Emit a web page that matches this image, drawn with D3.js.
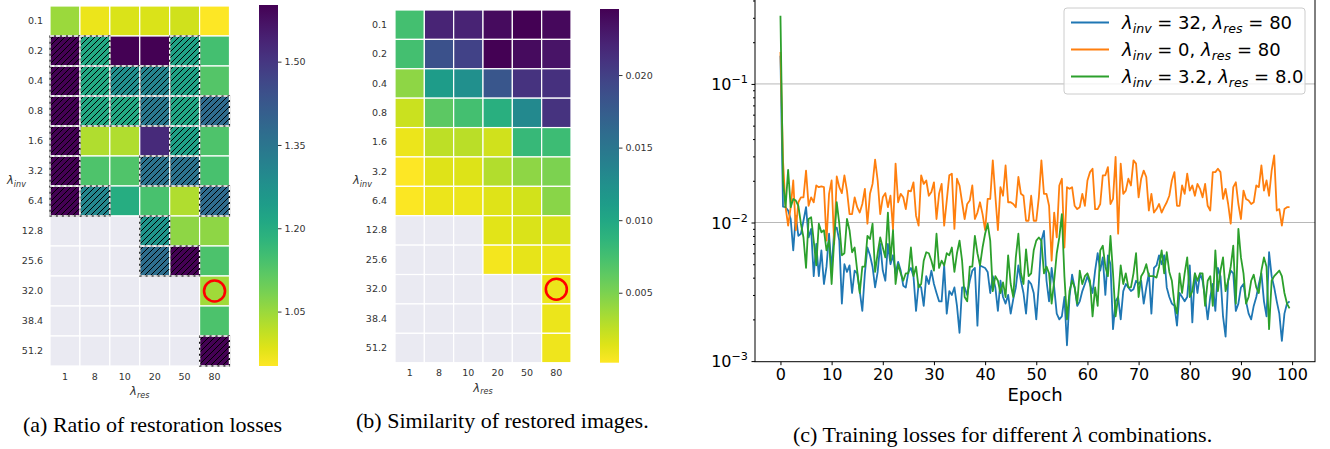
<!DOCTYPE html>
<html>
<head>
<meta charset="utf-8">
<script src="https://cdn.jsdelivr.net/npm/d3@7"></script>
<style>
  body { margin: 0; background: #fff; }
  svg { display: block; }
  text { font-family: "DejaVu Sans", sans-serif; }
</style>
</head>
<body>
<div id="chart"></div>
<script>
// ---- data ----
var invLabels = ["0.1", "0.2", "0.4", "0.8", "1.6", "3.2", "6.4", "12.8", "25.6", "32.0", "38.4", "51.2"]
var resLabels = ["1", "8", "10", "20", "50", "80"]

// (a) ratio of restoration losses, null = not trained
var ratio = [
  [1.05, 0.97, 0.99, 0.99, 1.00, 0.952],
  [1.602, 1.21, 1.602, 1.602, 1.225, 1.147],
  [1.602, 1.21, 1.28, 1.31, 1.225, 1.127],
  [1.602, 1.21, 1.21, 1.342, 1.215, 1.375],
  [1.602, 1.03, 1.03, 1.524, 1.23, 1.134],
  [1.602, 1.134, 1.13, 1.355, 1.355, 1.14],
  [1.602, 1.30, 1.20, 1.14, 1.03, 1.375],
  [null, null, null, 1.264, 1.063, 1.063],
  [null, null, null, 1.37, 1.602, 1.135],
  [null, null, null, null, null, 1.045],
  [null, null, null, null, null, 1.135],
  [null, null, null, null, null, 1.602]
]
var ratioHatch = [
  [0, 0, 0, 0, 0, 0],
  [1, 1, 0, 0, 1, 0],
  [1, 1, 1, 1, 1, 0],
  [1, 1, 1, 1, 1, 1],
  [1, 0, 0, 0, 1, 0],
  [1, 0, 0, 1, 1, 0],
  [1, 1, 0, 0, 0, 1],
  [0, 0, 0, 1, 0, 0],
  [0, 0, 0, 1, 1, 0],
  [0, 0, 0, 0, 0, 0],
  [0, 0, 0, 0, 0, 0],
  [0, 0, 0, 0, 0, 1]
]
var ratioTicks = [1.05, 1.20, 1.35, 1.50]

// (b) similarity of restored images
var similarity = [
  [0.0075, 0.0221, 0.0222, 0.0238, 0.0245, 0.0240],
  [0.0075, 0.0185, 0.0197, 0.0245, 0.0238, 0.0233],
  [0.0043, 0.0112, 0.0124, 0.0180, 0.0210, 0.0212],
  [0.0021, 0.0063, 0.0075, 0.0092, 0.0131, 0.0210],
  [0.0009, 0.0026, 0.0027, 0.0019, 0.0082, 0.0078],
  [0.0002, 0.0014, 0.0015, 0.0030, 0.0043, 0.0050],
  [0.0003, 0.0009, 0.0009, 0.0014, 0.0018, 0.0045],
  [null, null, null, 0.0013, 0.0016, 0.0017],
  [null, null, null, 0.0006, 0.0011, 0.0010],
  [null, null, null, null, null, 0.0009],
  [null, null, null, null, null, 0.0009],
  [null, null, null, null, null, 0.0008]
]
var simTicks = [0.005, 0.010, 0.015, 0.020]

// (c) training losses, one value every half epoch
var lossInv32 = [
  0.16, 0.0130, 0.0129, 0.0122, 0.0106, 0.0063, 0.0112, 0.0080, 0.0083, 0.0103, 0.0129, 0.0078, 0.0090, 0.0041, 0.0070, 0.0041, 0.0063, 0.0036, 0.0048, 0.0083,
  0.0045, 0.0088, 0.0092, 0.0074, 0.0026, 0.0050, 0.0044, 0.0049, 0.0031, 0.0045, 0.0043, 0.0032, 0.0023, 0.0043, 0.0066, 0.0058, 0.0048, 0.0034, 0.0044, 0.0070,
  0.0045, 0.0038, 0.0070, 0.0050, 0.0058, 0.0043, 0.0052, 0.0045, 0.0035,
  0.0034, 0.0044, 0.0047, 0.0041, 0.0023, 0.0036, 0.0034, 0.0025, 0.0041, 0.0036, 0.0045, 0.0036, 0.0031, 0.0027, 0.0027, 0.0049, 0.0022, 0.0032, 0.0030, 0.0034,
  0.0025, 0.0016, 0.0034, 0.0034, 0.0030, 0.0038, 0.0045, 0.0047, 0.0018, 0.0049, 0.0048, 0.0047, 0.0044, 0.0031, 0.0041, 0.0034, 0.0023, 0.0038, 0.0029, 0.0026,
  0.0030, 0.0022, 0.0028, 0.0034, 0.0049, 0.0038, 0.0031, 0.0022, 0.0038,
  0.0036, 0.0031, 0.0020, 0.0036, 0.0074, 0.0087, 0.0038, 0.0027, 0.0047, 0.0034, 0.0022, 0.0020, 0.0021, 0.0029, 0.0013, 0.0029, 0.0042, 0.0034, 0.0025, 0.0027,
  0.0032, 0.0036, 0.0041, 0.0036, 0.0031, 0.0045, 0.0060, 0.0045, 0.0056, 0.0030, 0.0058, 0.0050, 0.0017, 0.0027, 0.0029, 0.0020, 0.0032, 0.0036, 0.0034, 0.0032,
  0.0033, 0.0038, 0.0036, 0.0038, 0.0026, 0.0034, 0.0043, 0.0022, 0.0047, 0.0049, 0.0058,
  0.0050, 0.0058, 0.0034, 0.0029, 0.0026, 0.0025, 0.0018, 0.0031, 0.0029, 0.0027, 0.0029, 0.0049, 0.0019, 0.0043, 0.0031, 0.0043, 0.0038, 0.0029, 0.0020, 0.0029,
  0.0036, 0.0023, 0.0047, 0.0041, 0.0021, 0.0015, 0.0038, 0.0045, 0.0043, 0.0023, 0.0026, 0.0034, 0.0036, 0.0027, 0.0022, 0.0020, 0.0025, 0.0029, 0.0036, 0.0043,
  0.0027, 0.0021, 0.0061, 0.0041, 0.0034, 0.0027, 0.0022, 0.0014, 0.0022, 0.0026, 0.0027
]
var lossInv0 = [
  0.17, 0.028, 0.0129, 0.0095, 0.0129, 0.0201, 0.0088, 0.0140, 0.0152, 0.0152, 0.0237, 0.0132, 0.0152, 0.0140, 0.0185, 0.0180, 0.0182, 0.0180, 0.0074, 0.0161,
  0.0201, 0.0070, 0.0215, 0.0180, 0.0163, 0.0219, 0.0170, 0.0115, 0.0115, 0.0152, 0.0129, 0.0118, 0.0136, 0.0175, 0.0098, 0.0161, 0.0190, 0.0284, 0.0201, 0.0115,
  0.0152, 0.0163, 0.0129, 0.0156, 0.0089, 0.0266, 0.0140, 0.0161, 0.0152,
  0.0125, 0.0170, 0.0168, 0.0195, 0.0112, 0.0095, 0.0219, 0.0190, 0.0201, 0.0156, 0.0166, 0.0195, 0.0106, 0.0161, 0.0190, 0.0095, 0.0144, 0.0219, 0.0225, 0.0090,
  0.0207, 0.0185, 0.0140, 0.0106, 0.0136, 0.0144, 0.0185, 0.0106, 0.0118, 0.0140, 0.0115, 0.0088, 0.0148, 0.0148, 0.0281, 0.0156, 0.0088, 0.0180, 0.0156, 0.0258,
  0.0140, 0.0140, 0.0136, 0.0129, 0.0213, 0.0161, 0.0156, 0.0103, 0.0103,
  0.0156, 0.0103, 0.0103, 0.0152, 0.0281, 0.0161, 0.0161, 0.0132, 0.0053, 0.0118, 0.0078, 0.0185, 0.0207, 0.0066, 0.0180, 0.0175, 0.0180, 0.0132, 0.0125, 0.0129,
  0.0161, 0.0132, 0.0201, 0.0231, 0.0244, 0.0125, 0.0125, 0.0136, 0.0219, 0.0219, 0.0251, 0.0136, 0.0148, 0.0297, 0.0083, 0.0266, 0.0161, 0.0170, 0.0207, 0.0185,
  0.0281, 0.0266, 0.0152, 0.0207, 0.0237, 0.0213, 0.0122, 0.0161, 0.0118, 0.0125, 0.0136,
  0.0118, 0.0129, 0.0140, 0.0156, 0.0201, 0.0231, 0.0132, 0.0132, 0.0185, 0.0161, 0.0225, 0.0170, 0.0185, 0.0156, 0.0190, 0.0175, 0.0152, 0.0190, 0.0132, 0.0122,
  0.0231, 0.0231, 0.0244, 0.0231, 0.0148, 0.0175, 0.0136, 0.0098, 0.0180, 0.0195, 0.0136, 0.0106, 0.0170, 0.0148, 0.0144, 0.0136, 0.0140, 0.0185, 0.0180, 0.0258,
  0.0170, 0.0201, 0.0156, 0.0237, 0.0305, 0.0122, 0.0125, 0.0095, 0.0125, 0.0129, 0.0129
]
var lossInv3 = [
  0.31, 0.020, 0.0129, 0.024, 0.0129, 0.0148, 0.0144, 0.0132, 0.0098, 0.0078, 0.0047, 0.0106, 0.0109, 0.0074, 0.0049, 0.0098, 0.0085, 0.0088, 0.0063, 0.0074,
  0.0036, 0.0074, 0.0140, 0.0098, 0.0058, 0.0060, 0.0106, 0.0088, 0.0061, 0.0066, 0.0045, 0.0031, 0.0048, 0.0048, 0.0080, 0.0076, 0.0098, 0.0044, 0.0060, 0.0078,
  0.0066, 0.0056, 0.0118, 0.0053, 0.0088, 0.0036, 0.0050, 0.0043, 0.0038,
  0.0043, 0.0043, 0.0066, 0.0041, 0.0048, 0.0034, 0.0036, 0.0053, 0.0061, 0.0060, 0.0053, 0.0045, 0.0083, 0.0047, 0.0053, 0.0049, 0.0060, 0.0058, 0.0066, 0.0044,
  0.0060, 0.0074, 0.0053, 0.0029, 0.0027, 0.0048, 0.0048, 0.0080, 0.0060, 0.0049, 0.0066, 0.0083, 0.0098, 0.0074, 0.0032, 0.0041, 0.0038, 0.0031, 0.0037, 0.0029,
  0.0058, 0.0036, 0.0029, 0.0056, 0.0083, 0.0043, 0.0036, 0.0064, 0.0041,
  0.0043, 0.0063, 0.0074, 0.0078, 0.0074, 0.0043, 0.0048, 0.0043, 0.0026, 0.0038, 0.0060, 0.0078, 0.0115, 0.0041, 0.0020, 0.0032, 0.0038, 0.0034, 0.0026, 0.0045,
  0.0036, 0.0041, 0.0043, 0.0038, 0.0021, 0.0034, 0.0025, 0.0063, 0.0068, 0.0048, 0.0041, 0.0080, 0.0043, 0.0021, 0.0029, 0.0049, 0.0036, 0.0043, 0.0034, 0.0034,
  0.0043, 0.0060, 0.0029, 0.0041, 0.0044, 0.0050, 0.0041, 0.0041, 0.0041, 0.0040, 0.0048,
  0.0063, 0.0043, 0.0061, 0.0044, 0.0038, 0.0026, 0.0022, 0.0043, 0.0031, 0.0043, 0.0056, 0.0029, 0.0032, 0.0043, 0.0038, 0.0043, 0.0043, 0.0025, 0.0038, 0.0041,
  0.0025, 0.0063, 0.0032, 0.0045, 0.0056, 0.0032, 0.0038, 0.0048, 0.0068, 0.0026, 0.0090, 0.0056, 0.0043, 0.0026, 0.0029, 0.0038, 0.0042, 0.0034, 0.0031, 0.0045,
  0.0056, 0.0048, 0.0017, 0.0038, 0.0041, 0.0043, 0.0045, 0.0041, 0.0031, 0.0026, 0.0024
]
var seriesNames = [["32", "80"], ["0", "80"], ["3.2", "8.0"]]
var seriesColors = ["#1f77b4", "#ff7f0e", "#2ca02c"]
var epochTicks = d3.range(0, 101, 10)

// ---- drawing ----
var svg = d3.select("#chart").append("svg").attr("width", 1330).attr("height", 449)
var defs = svg.append("defs")

defs.append("pattern")
    .attr("id", "hatch")
    .attr("patternUnits", "userSpaceOnUse")
    .attr("width", 6).attr("height", 6)
    .append("path")
    .attr("d", "M-1,1 l2,-2 M0,6 l6,-6 M5,7 l2,-2")
    .attr("stroke", "#000").attr("stroke-width", 1)

// italic lambda with subscript, mathtext style
function lambdaSub(text, sub, size) {
    text.append("tspan").attr("font-style", "italic").text("λ")
    text.append("tspan").attr("font-style", "italic").attr("font-size", size * 0.7).attr("dy", size * 0.22).text(sub)
    text.append("tspan").attr("dy", -size * 0.22).text("")
}

function heatmap(cfg) {
    var g = svg.append("g")
    var x = d3.scaleBand().domain(resLabels).range([cfg.x0, cfg.x1])
    var y = d3.scaleBand().domain(invLabels).range([cfg.y0, cfg.y1])
    var color = d3.scaleSequential(d3.interpolateViridis).domain([cfg.vmax, cfg.vmin])

    var cells = []
    cfg.values.forEach((row, i) => row.forEach((v, j) => {
        cells.push({ inv: invLabels[i], res: resLabels[j], v: v, h: cfg.hatch ? cfg.hatch[i][j] : 0 })
    }))

    g.selectAll("rect.cell")
        .data(cells)
        .enter()
        .append("rect")
        .attr("x", d => x(d.res)).attr("y", d => y(d.inv))
        .attr("width", x.bandwidth()).attr("height", y.bandwidth())
        .attr("fill", d => d.v == null ? "#eaeaf2" : color(d.v))
        .attr("stroke", "#fff").attr("stroke-width", 1.2)

    var hatched = cells.filter(d => d.h)
    g.selectAll("rect.hb").data(hatched).enter().append("rect")
        .attr("x", d => x(d.res)).attr("y", d => y(d.inv))
        .attr("width", x.bandwidth()).attr("height", y.bandwidth())
        .attr("fill", "url(#hatch)")
        .attr("stroke", "#111").attr("stroke-width", 1.2)
    g.selectAll("rect.hw").data(hatched).enter().append("rect")
        .attr("x", d => x(d.res)).attr("y", d => y(d.inv))
        .attr("width", x.bandwidth()).attr("height", y.bandwidth())
        .attr("fill", "none")
        .attr("stroke", "#fff").attr("stroke-width", 1.3).attr("stroke-dasharray", "4,2")

    // highlighted setting
    g.append("circle")
        .attr("cx", x("80") + x.bandwidth() / 2).attr("cy", y("32.0") + y.bandwidth() / 2)
        .attr("r", 10.5)
        .attr("fill", "none").attr("stroke", "#f00").attr("stroke-width", 2.6)

    var ay = g.append("g").attr("transform", "translate(" + cfg.x0 + ",0)")
        .call(d3.axisLeft(y).tickSize(0).tickPadding(cfg.ypad))
    var ax = g.append("g").attr("transform", "translate(0," + cfg.y1 + ")")
        .call(d3.axisBottom(x).tickSize(0).tickPadding(7))
    ;[ay, ax].forEach(a => {
        a.select(".domain").remove()
        a.selectAll("text").attr("font-size", 9.5).attr("fill", "#333").attr("font-family", "DejaVu Sans")
    })

    var ly = g.append("text").attr("x", cfg.ylabX).attr("y", 184).attr("font-size", 11.5).attr("fill", "#333")
    lambdaSub(ly, "inv", 11.5)
    var lx = g.append("text").attr("x", (cfg.x0 + cfg.x1) / 2).attr("y", cfg.y1 + 29)
        .attr("font-size", 11.5).attr("fill", "#333").attr("text-anchor", "middle")
    lambdaSub(lx, "res", 11.5)

    // colorbar
    var cb = d3.scaleLinear().domain([cfg.vmin, cfg.vmax]).range([cfg.cbBottom, cfg.cbTop])
    var gid = "grad" + cfg.id
    var grad = defs.append("linearGradient").attr("id", gid)
        .attr("x1", 0).attr("y1", 1).attr("x2", 0).attr("y2", 0)
    d3.range(0, 1.0001, 0.05).forEach(t => {
        grad.append("stop").attr("offset", t).attr("stop-color", d3.interpolateViridis(1 - t))
    })
    g.append("rect")
        .attr("x", cfg.cbX).attr("y", cfg.cbTop)
        .attr("width", cfg.cbW).attr("height", cfg.cbBottom - cfg.cbTop)
        .attr("fill", "url(#" + gid + ")")
    var ac = g.append("g").attr("transform", "translate(" + (cfg.cbX + cfg.cbW) + ",0)")
        .call(d3.axisRight(cb).tickValues(cfg.ticks).tickFormat(d3.format(cfg.fmt)).tickSize(3.5).tickPadding(3))
    ac.select(".domain").remove()
    ac.selectAll("line").attr("stroke", "#333")
    ac.selectAll("text").attr("font-size", 9.5).attr("fill", "#333").attr("font-family", "DejaVu Sans")
}

heatmap({
    id: "a", values: ratio, hatch: ratioHatch, vmin: 0.952, vmax: 1.602,
    x0: 50, x1: 229.5, y0: 6, y1: 366, ypad: 7, ylabX: 7,
    cbX: 259, cbW: 19, cbTop: 5, cbBottom: 366, ticks: ratioTicks, fmt: ".2f"
})
heatmap({
    id: "b", values: similarity, vmin: 0.00018, vmax: 0.02455,
    x0: 395, x1: 571, y0: 10, y1: 362.7, ypad: 8, ylabX: 353,
    cbX: 600, cbW: 19, cbTop: 9, cbBottom: 362.7, ticks: simTicks, fmt: ".3f"
})

// ---- (c) training losses ----
var lx0 = 755, lx1 = 1315, ly0 = -1, ly1 = 361.7
var x = d3.scaleLinear().domain([-4.975, 104.475]).range([lx0, lx1])
var y = d3.scaleLog().domain([0.00099, 0.41]).range([ly1, ly0])
var gc = svg.append("g")

defs.append("clipPath").attr("id", "plotclip")
    .append("rect").attr("x", lx0).attr("y", ly0).attr("width", lx1 - lx0).attr("height", ly1 - ly0)

gc.selectAll("line.grid")
    .data([0.01, 0.1])
    .enter()
    .append("line")
    .attr("x1", lx0).attr("x2", lx1)
    .attr("y1", d => y(d)).attr("y2", d => y(d))
    .attr("stroke", "#b0b0b0").attr("stroke-width", 0.9)

var lineGen = d3.line().x((d, i) => x(i * 0.5)).y(d => y(d))
gc.append("g").attr("clip-path", "url(#plotclip)")
    .selectAll("path")
    .data([lossInv32, lossInv0, lossInv3])
    .enter()
    .append("path")
    .attr("d", lineGen)
    .attr("fill", "none")
    .attr("stroke", (d, i) => seriesColors[i])
    .attr("stroke-width", 1.8)
    .attr("stroke-linejoin", "round")

// spines
gc.append("rect")
    .attr("x", lx0).attr("y", ly0).attr("width", lx1 - lx0).attr("height", ly1 - ly0)
    .attr("fill", "none").attr("stroke", "#000").attr("stroke-width", 1)

var axB = gc.append("g").attr("transform", "translate(0," + ly1 + ")")
    .call(d3.axisBottom(x).tickValues(epochTicks).tickFormat(d3.format("d")).tickSize(3.5).tickPadding(3.5))
axB.select(".domain").remove()
axB.selectAll("text").attr("font-size", 16).attr("fill", "#000").attr("font-family", "DejaVu Sans")

var minor = []
;[0.001, 0.01, 0.1].forEach(b => d3.range(2, 10).forEach(k => { if (b * k < 0.41) minor.push(b * k) }))
var axM = gc.append("g").attr("transform", "translate(" + lx0 + ",0)")
    .call(d3.axisLeft(y).tickValues(minor).tickFormat("").tickSize(2))
axM.select(".domain").remove()

var axL = gc.append("g").attr("transform", "translate(" + lx0 + ",0)")
    .call(d3.axisLeft(y).tickValues([0.001, 0.01, 0.1]).tickFormat("").tickSize(3.5))
axL.select(".domain").remove()
axL.selectAll(".tick").append("text")
    .attr("x", -7).attr("dy", "0.36em").attr("fill", "#000")
    .attr("text-anchor", "end").attr("font-size", 16)
    .each(function(d) {
        var t = d3.select(this)
        t.append("tspan").text("10")
        t.append("tspan").attr("font-size", 11.2).attr("dy", -7).text("−" + Math.round(-Math.log10(d)))
    })

gc.append("text")
    .attr("x", (lx0 + lx1) / 2).attr("y", 401)
    .attr("text-anchor", "middle").attr("font-size", 18).attr("fill", "#000")
    .text("Epoch")

// legend
var lg = gc.append("g")
lg.append("rect")
    .attr("x", 1064).attr("y", 8).attr("width", 241).attr("height", 86).attr("rx", 3)
    .attr("fill", "#fff").attr("fill-opacity", 0.8)
    .attr("stroke", "#ccc").attr("stroke-width", 1)
seriesNames.forEach((nm, i) => {
    var yy = 22.5 + i * 27
    lg.append("line").attr("x1", 1071).attr("x2", 1109).attr("y1", yy).attr("y2", yy)
        .attr("stroke", seriesColors[i]).attr("stroke-width", 1.8)
    var t = lg.append("text").attr("x", 1122).attr("y", yy + 6.5).attr("font-size", 18).attr("fill", "#000")
    t.append("tspan").attr("font-style", "italic").text("λ")
    t.append("tspan").attr("font-style", "italic").attr("font-size", 12.6).attr("dy", 4).text("inv")
    t.append("tspan").attr("dy", -4).text(" = " + nm[0] + ", ")
    t.append("tspan").attr("font-style", "italic").text("λ")
    t.append("tspan").attr("font-style", "italic").attr("font-size", 12.6).attr("dy", 4).text("res")
    t.append("tspan").attr("dy", -4).text(" = " + nm[1])
})

// captions
var cap = svg.append("g").attr("font-size", 22).attr("fill", "#000")
cap.append("text").attr("x", 23).attr("y", 432).style("font-family", "Liberation Serif").text("(a) Ratio of restoration losses")
cap.append("text").attr("x", 356).attr("y", 428).style("font-family", "Liberation Serif").text("(b) Similarity of restored images.")
var cc = cap.append("text").attr("x", 793).attr("y", 442).style("font-family", "Liberation Serif")
cc.append("tspan").text("(c) Training losses for different ")
cc.append("tspan").attr("font-style", "italic").text("λ")
cc.append("tspan").text(" combinations.")
</script>
</body>
</html>
